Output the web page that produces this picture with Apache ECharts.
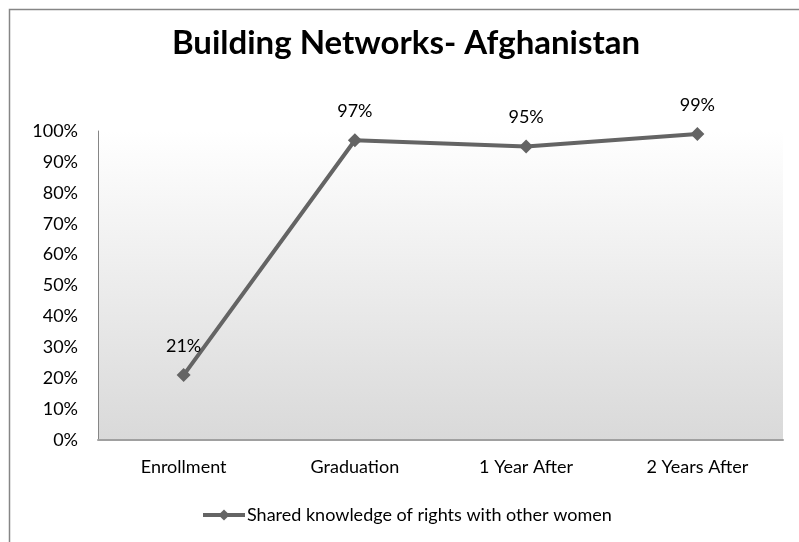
<!DOCTYPE html>
<html>
<head>
<meta charset="utf-8">
<script src="https://cdn.jsdelivr.net/npm/echarts@6/dist/echarts.min.js"></script>
<style>
html,body{margin:0;padding:0;background:#fff;}
#c{width:799px;height:542px;}
</style>
</head>
<body>
<div id="c"></div>
<script>
const categories = ['Enrollment', 'Graduation', '1 Year After', '2 Years After'];
const seriesName = 'Shared knowledge of rights with other women';
const values = [0.21, 0.97, 0.95, 0.99];
const titleText = 'Building Networks- Afghanistan';

const chart = echarts.init(document.getElementById('c'), null, {renderer: 'canvas'});
const FONT = 'Lato, "Liberation Sans", sans-serif';
chart.setOption({
  animation: false,
  backgroundColor: '#fff',
  title: {
    text: titleText,
    left: 406, textAlign: 'center',
    top: 27, padding: 0,
    textStyle: {fontFamily: FONT, fontWeight: 'bold', fontSize: 33, color: '#000'}
  },
  graphic: [{
    type: 'rect', silent: true,
    shape: {x: 9.5, y: 9.5, width: 820, height: 560},
    style: {fill: null, stroke: '#868686', lineWidth: 1.5}
  }],
  grid: {
    left: 98, right: 16, top: 131, bottom: 102,
    show: true, borderWidth: 0,
    backgroundColor: new echarts.graphic.LinearGradient(0, 0, 0, 1, [
      {offset: 0, color: '#ffffff'},
      {offset: 1, color: '#d9d9d9'}
    ])
  },
  legend: {
    data: [seriesName],
    left: 201, top: 506, padding: 0,
    itemWidth: 42, itemHeight: 14, itemGap: 0,
    lineStyle: {width: 4},
    textStyle: {fontFamily: FONT, fontSize: 18, color: '#000', padding: [0,0,0,-3]}
  },
  xAxis: {
    type: 'category', data: categories, boundaryGap: true,
    axisLine: {show: true, lineStyle: {color: '#a0a0a0', width: 2}},
    axisTick: {show: false},
    axisLabel: {fontFamily: FONT, fontSize: 18, color: '#000', margin: 18}
  },
  yAxis: {
    type: 'value', min: 0, max: 1, interval: 0.1,
    axisLine: {show: true, lineStyle: {color: '#868686', width: 1}},
    axisTick: {show: false},
    splitLine: {show: false},
    axisLabel: {fontFamily: FONT, fontSize: 18, color: '#000', margin: 20,
      formatter: v => Math.round(v * 100) + '%'}
  },
  series: [{
    name: seriesName, type: 'line', data: values,
    symbol: 'diamond', symbolSize: 14,
    lineStyle: {color: '#646464', width: 4},
    itemStyle: {color: '#646464'},
    label: {show: true, position: 'top', distance: 13, fontFamily: FONT, fontSize: 18, color: '#000',
      formatter: p => Math.round(p.value * 100) + '%'}
  }]
});
</script>
</body>
</html>
